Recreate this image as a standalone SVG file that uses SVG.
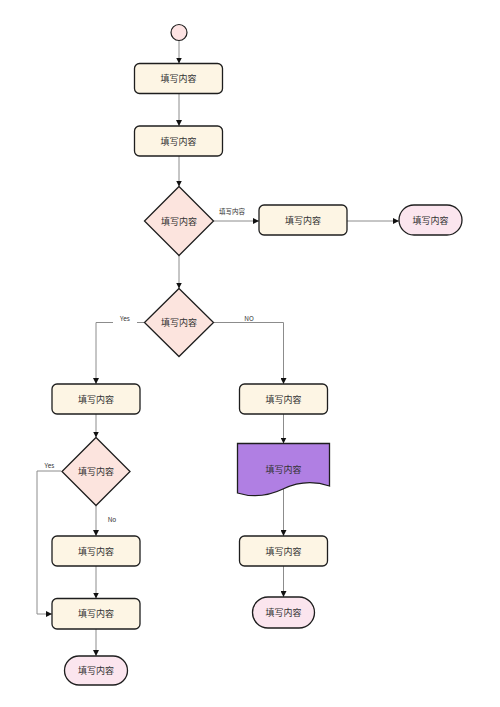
<svg xmlns="http://www.w3.org/2000/svg" width="500" height="707" viewBox="0 0 500 707">
<style>
.box{fill:#fdf5e4;stroke:#1e1e1e;stroke-width:1.3}
.dia{fill:#fce4de;stroke:#1e1e1e;stroke-width:1.3}
.term{fill:#fbe5ee;stroke:#1e1e1e;stroke-width:1.3}
.doc{fill:#b07fe3;stroke:#1e1e1e;stroke-width:1.3}
.t{font-family:"Noto Sans CJK SC","Noto Sans",sans-serif;font-size:9px;fill:#333;text-anchor:middle;dominant-baseline:central}
.s{font-family:"Noto Sans CJK SC","Liberation Sans",sans-serif;font-size:6.5px;fill:#333;text-anchor:middle;dominant-baseline:central}
.e{fill:none;stroke:#8c8c8c;stroke-width:1;marker-end:url(#a)}
</style>
<defs>
<marker id="a" viewBox="0 0 10 10" refX="10" refY="5" markerWidth="6" markerHeight="6" markerUnits="userSpaceOnUse" orient="auto">
<path d="M0,0 L10,5 L0,10 Z" fill="#111"/>
</marker>
</defs>
<rect width="500" height="707" fill="#fff"/>
<g id="connectors">
<path class="e" d="M179,40.5 V63.5"/>
<path class="e" d="M179,93.5 V126"/>
<path class="e" d="M179,156 V186.5"/>
<path class="e" d="M213.5,221 H259"/>
<path class="e" d="M347,221 H399"/>
<path class="e" d="M179,255.5 V288.5"/>
<path class="e" d="M144.5,322.5 H96 V384"/>
<path class="e" d="M213.5,322.5 H283.5 V384"/>
<path class="e" d="M96,414 V437.5"/>
<path class="e" d="M96,506 V536"/>
<path class="e" d="M61,471 H37 V614 H52"/>
<path class="e" d="M96,566 V598.5"/>
<path class="e" d="M96,629 V656"/>
<path class="e" d="M283.5,414 V443.5"/>
<path class="e" d="M283.5,489 V536"/>
<path class="e" d="M283.5,566 V597"/>
<rect x="113" y="314" width="24" height="12" fill="#fff"/>
<text class="s" x="125" y="318">Yes</text>
<text class="s" x="249" y="318">NO</text>
<text class="s" x="232" y="210.5">填写内容</text>
<text class="s" x="49.5" y="464.5">Yes</text>
<text class="s" x="112" y="519">No</text>
</g>
<g id="start"><circle cx="179" cy="32.5" r="8" fill="#fde3e3" stroke="#1e1e1e" stroke-width="1.2"/></g>
<g id="box1"><rect class="box" x="134.5" y="63.5" width="88" height="30" rx="5"/><text class="t" x="178.5" y="78.5">填写内容</text></g>
<g id="box2"><rect class="box" x="134.5" y="126" width="88" height="30" rx="5"/><text class="t" x="178.5" y="141">填写内容</text></g>
<g id="dec1"><path class="dia" d="M179,186.5 L213.5,221 L179,255.5 L144.5,221 Z"/><text class="t" x="179" y="221">填写内容</text></g>
<g id="box3"><rect class="box" x="259" y="205" width="88" height="30" rx="5"/><text class="t" x="303" y="220">填写内容</text></g>
<g id="end1"><rect class="term" x="399" y="205" width="63" height="30" rx="15"/><text class="t" x="430.5" y="220">填写内容</text></g>
<g id="dec2"><path class="dia" d="M179,288.5 L213.5,322.5 L179,356.5 L144.5,322.5 Z"/><text class="t" x="179" y="322.5">填写内容</text></g>
<g id="box4"><rect class="box" x="52" y="384" width="88" height="30" rx="5"/><text class="t" x="96" y="399">填写内容</text></g>
<g id="box5"><rect class="box" x="239.5" y="384" width="88" height="30" rx="5"/><text class="t" x="283.5" y="399">填写内容</text></g>
<g id="dec3"><path class="dia" d="M96,437.5 L130,471.5 L96,505.5 L62,471.5 Z"/><text class="t" x="96" y="471.5">填写内容</text></g>
<g id="doc"><path class="doc" d="M237.5,443.5 H329.5 V486 Q306,478 283,489 Q260,500 237.5,493 Z"/><text class="t" x="283.5" y="469">填写内容</text></g>
<g id="box6"><rect class="box" x="52" y="536" width="88" height="30" rx="5"/><text class="t" x="96" y="551">填写内容</text></g>
<g id="box7"><rect class="box" x="239.5" y="536" width="88" height="30" rx="5"/><text class="t" x="283.5" y="551">填写内容</text></g>
<g id="box8"><rect class="box" x="52" y="598.5" width="88" height="30.5" rx="5"/><text class="t" x="96" y="613.5">填写内容</text></g>
<g id="end2"><rect class="term" x="252.5" y="597" width="62" height="31" rx="15.5"/><text class="t" x="283.5" y="612.5">填写内容</text></g>
<g id="end3"><rect class="term" x="64.5" y="656" width="63" height="29" rx="14.5"/><text class="t" x="96" y="670.5">填写内容</text></g>
</svg>
